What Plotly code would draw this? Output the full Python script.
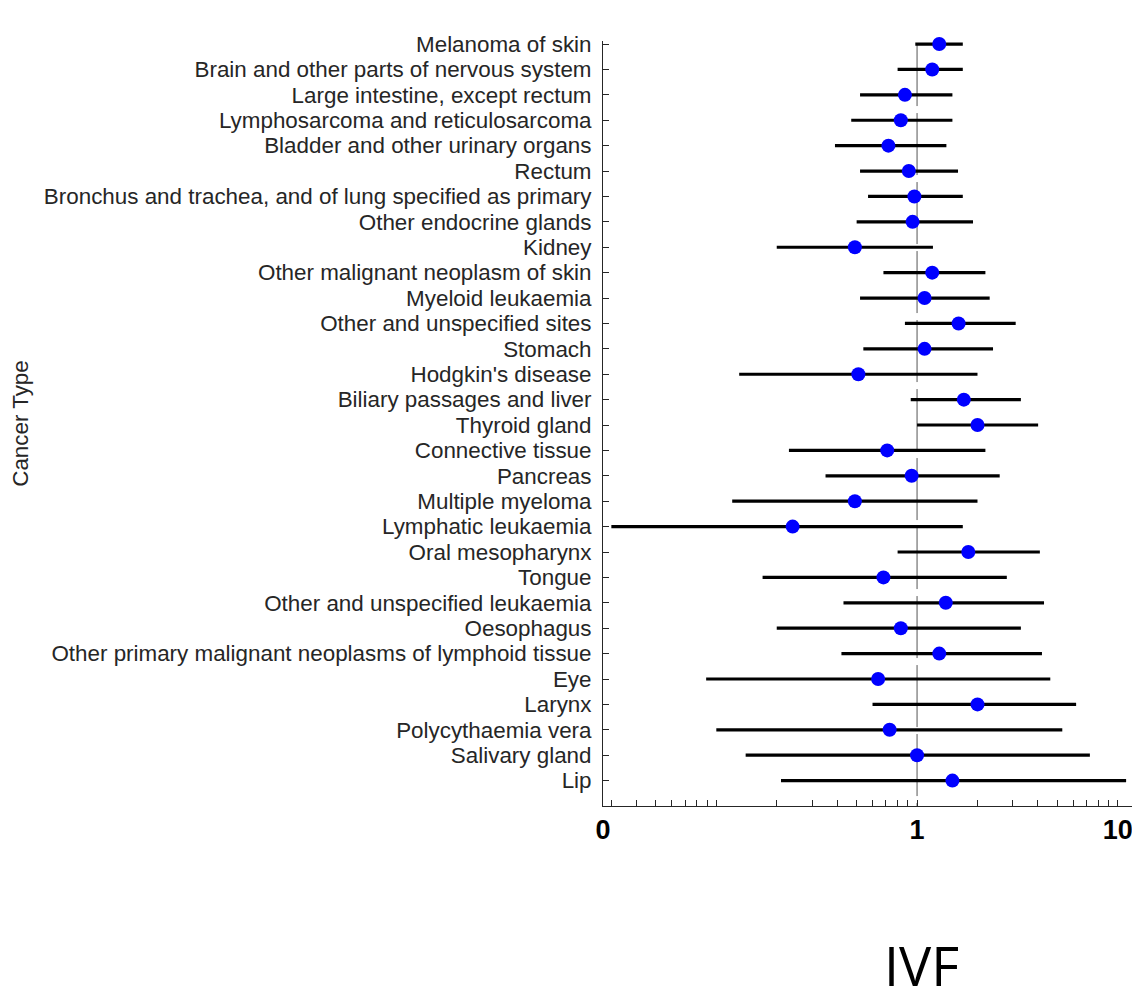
import numpy as np
import plotly.graph_objects as go

# ---------------- data ----------------
categories = [
    "Melanoma of skin",
    "Brain and other parts of nervous system",
    "Large intestine, except rectum",
    "Lymphosarcoma and reticulosarcoma",
    "Bladder and other urinary organs",
    "Rectum",
    "Bronchus and trachea, and of lung specified as primary",
    "Other endocrine glands",
    "Kidney",
    "Other malignant neoplasm of skin",
    "Myeloid leukaemia",
    "Other and unspecified sites",
    "Stomach",
    "Hodgkin's disease",
    "Biliary passages and liver",
    "Thyroid gland",
    "Connective tissue",
    "Pancreas",
    "Multiple myeloma",
    "Lymphatic leukaemia",
    "Oral mesopharynx",
    "Tongue",
    "Other and unspecified leukaemia",
    "Oesophagus",
    "Other primary malignant neoplasms of lymphoid tissue",
    "Eye",
    "Larynx",
    "Polycythaemia vera",
    "Salivary gland",
    "Lip",
]

estimate = [1.29, 1.19, 0.87, 0.83, 0.72, 0.91, 0.97, 0.95, 0.49, 1.19,
            1.09, 1.61, 1.09, 0.51, 1.71, 2.00, 0.71, 0.94, 0.49, 0.24,
            1.80, 0.68, 1.39, 0.83, 1.29, 0.64, 2.00, 0.73, 1.00, 1.50]

ci_lower = [0.98, 0.80, 0.52, 0.47, 0.39, 0.52, 0.57, 0.50, 0.20, 0.68,
            0.52, 0.87, 0.54, 0.13, 0.93, 1.00, 0.23, 0.35, 0.12, 0.030,
            0.80, 0.17, 0.43, 0.20, 0.42, 0.089, 0.60, 0.100, 0.14, 0.21]

ci_upper = [1.69, 1.69, 1.50, 1.50, 1.40, 1.60, 1.69, 1.90, 1.20, 2.19,
            2.30, 3.10, 2.39, 2.00, 3.29, 4.01, 2.19, 2.58, 2.00, 1.69,
            4.09, 2.80, 4.29, 3.29, 4.19, 4.61, 6.20, 5.29, 7.26, 11.0]

x_limits = [0.02726, 12.9]
x_tick_values = [x_limits[0], 1, 10]
x_tick_labels = ["0", "1", "10"]
reference_value = 1

# ---------------- figure ----------------
est = np.array(estimate)
lo = np.array(ci_lower)
hi = np.array(ci_upper)
ypos = list(range(len(categories)))

FONT = "Liberation Sans, Arial, Helvetica, sans-serif"
AXC = "#262626"

fig = go.Figure()

fig.add_trace(go.Scatter(
    x=est, y=ypos, mode="markers",
    marker=dict(color="#0000FF", size=14, line=dict(width=0)),
    error_x=dict(type="data", symmetric=False,
                 array=hi - est, arrayminus=est - lo,
                 color="black", thickness=3.2, width=0),
    cliponaxis=False, showlegend=False, hoverinfo="skip",
))

fig.add_shape(type="line", xref="x", yref="y",
              x0=reference_value, x1=reference_value, y0=0, y1=len(categories),
              line=dict(color="#555555", width=1, dash="62px,7px"),
              layer="below")

# minor ticks on log axis
minor_vals = [k * 10.0 ** e for e in (-2, -1, 0) for k in range(1, 10)] + [10.0]
minor_vals = [v for v in minor_vals if x_limits[0] < v <= x_limits[1]]

fig.update_xaxes(
    type="log",
    range=[np.log10(x_limits[0]), np.log10(x_limits[1])],
    tickmode="array", tickvals=x_tick_values, ticktext=x_tick_labels,
    ticks="inside", ticklen=6, tickcolor=AXC, tickwidth=1,
    tickfont=dict(family=FONT, size=27, color="black", weight="bold"),
    ticklabelstandoff=0,
    minor=dict(tickmode="array", tickvals=minor_vals, ticks="inside",
               ticklen=6, tickcolor=AXC, tickwidth=1, showgrid=False),
    showline=True, linecolor=AXC, linewidth=1,
    showgrid=False, zeroline=False, mirror=False,
)

fig.update_yaxes(
    range=[len(categories), -0.12],
    tickmode="array", tickvals=ypos, ticktext=categories,
    ticks="inside", ticklen=6, tickcolor=AXC, tickwidth=1,
    tickfont=dict(family=FONT, size=22.4, color=AXC),
    ticklabelstandoff=6,
    showline=True, linecolor=AXC, linewidth=1,
    showgrid=False, zeroline=False, mirror=False,
    title=dict(text="Cancer Type", font=dict(family=FONT, size=22.4, color=AXC),
               standoff=24),
)

fig.add_annotation(text="IVF", xref="paper", yref="paper",
                   x=0.594, y=-0.208, xanchor="center", yanchor="middle",
                   showarrow=False,
                   font=dict(family="Open Sans, Lato, sans-serif", size=54, color="black"))

# partially visible text at the cropped right edge
for txt, yp in [("I", 354), ("C", 447)]:
    fig.add_annotation(text=txt, xref="paper", yref="paper",
                       x=(1132 - 603) / 537, y=(806 - yp) / 765,
                       xanchor="left", yanchor="middle", showarrow=False,
                       font=dict(family=FONT, size=22, color=AXC))

# the page body has an 8px margin: size the figure so the plot sits where
# the reference puts it inside the 1140x991 window
fig.update_layout(
    width=1132, height=983,
    margin=dict(l=595, r=0, t=33, b=185, autoexpand=False),
    paper_bgcolor="white", plot_bgcolor="white",
    showlegend=False,
)

fig.write_html("out.html")
